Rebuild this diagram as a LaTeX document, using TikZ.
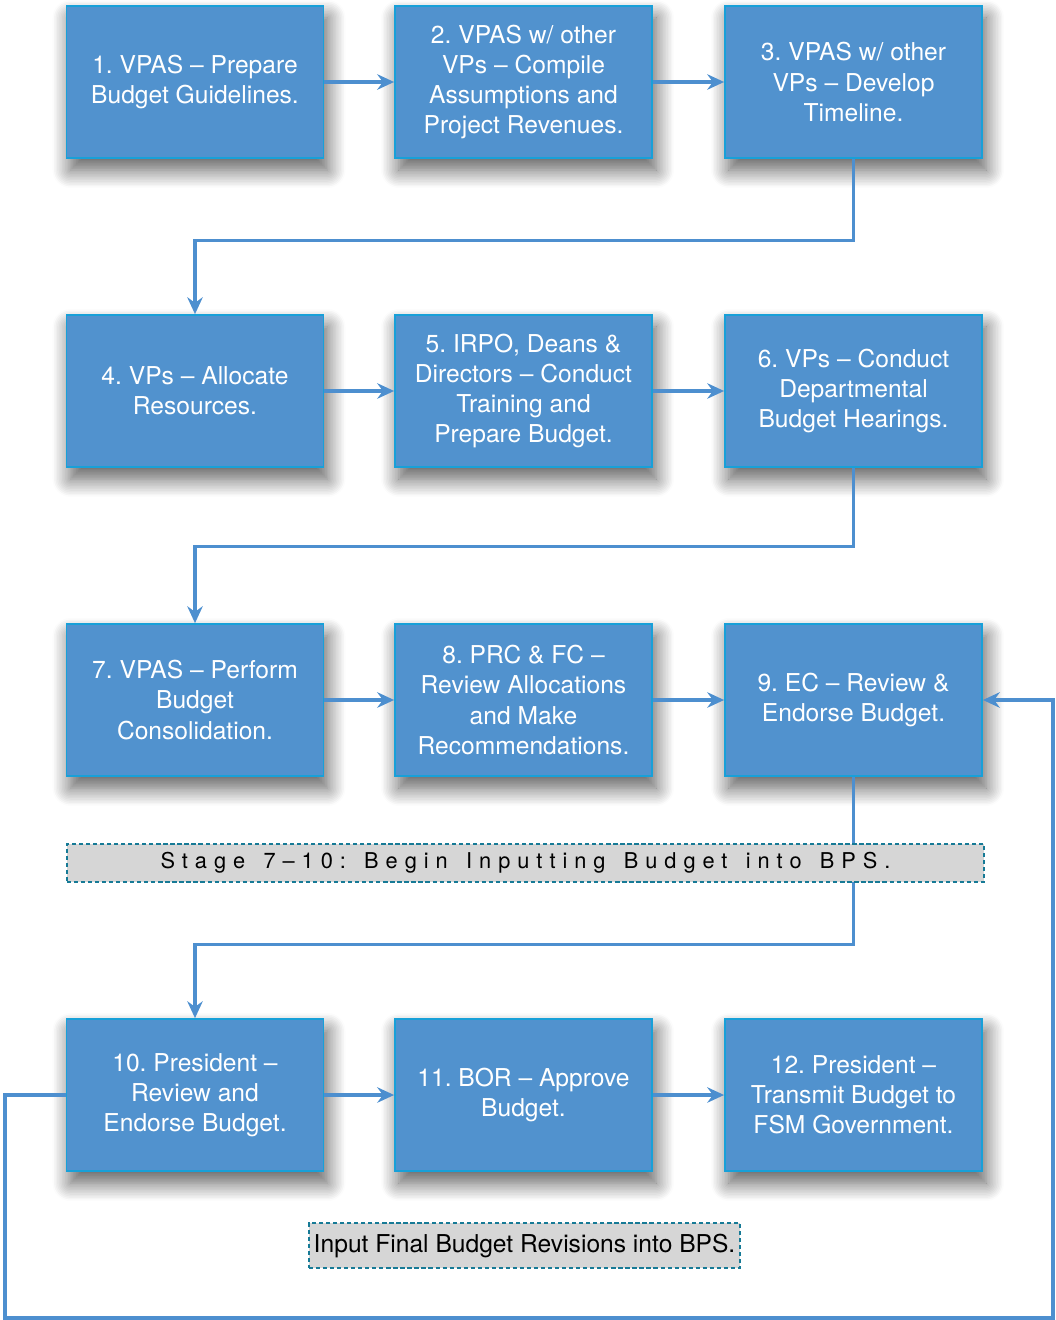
\documentclass[tikz,border=0pt]{standalone}
\usepackage{fontspec}
\setmainfont{TeX Gyre Heros}
\newfontfamily\stagefont[LetterSpace=32,WordSpace=1.4]{TeX Gyre Heros}
\frenchspacing
\usetikzlibrary{arrows.meta,shadows.blur}
\definecolor{boxblue}{RGB}{81,146,206}
\definecolor{boxedge}{RGB}{24,160,216}
\definecolor{linkblue}{RGB}{77,143,207}
\definecolor{notegray}{RGB}{214,214,214}
\definecolor{noteedge}{RGB}{22,122,150}
\begin{document}
\begin{tikzpicture}[x=0.025cm, y=-0.025cm,
    stepbox/.style={draw=boxedge, line width=1.2pt, fill=boxblue, text=white,
      minimum width=6.425cm, minimum height=3.8cm, align=center,
      font=\fontsize{17.5}{21.5}\selectfont,
      blur shadow={shadow xshift=0.1cm, shadow yshift=-0.3cm,
        shadow blur radius=0.45cm, shadow blur steps=12, shadow opacity=65}},
    notebox/.style={draw=noteedge, densely dashed, line width=1.1pt, fill=notegray,
      inner sep=0pt, align=center},
    link/.style={draw=linkblue, line width=2.2pt, -{Stealth[length=12pt, width=11pt, inset=4pt]}}]
    \useasboundingbox (0,0) rectangle (1056,1320);
    \node[stepbox] (b1) at (195,82) {1. VPAS – Prepare\\Budget Guidelines.};
    \node[stepbox] (b2) at (523.5,82) {2. VPAS w/ other\\VPs – Compile\\Assumptions and\\Project Revenues.};
    \node[stepbox] (b3) at (853.5,82) {3. VPAS w/ other\\VPs – Develop\\Timeline.};
    \node[stepbox] (b4) at (195,391) {4. VPs – Allocate\\Resources.};
    \node[stepbox] (b5) at (523.5,391) {5. IRPO, Deans \&\\Directors – Conduct\\Training and\\Prepare Budget.};
    \node[stepbox] (b6) at (853.5,391) {6. VPs – Conduct\\Departmental\\Budget Hearings.};
    \node[stepbox] (b7) at (195,700) {7. VPAS – Perform\\Budget\\Consolidation.};
    \node[stepbox] (b8) at (523.5,700) {8. PRC \& FC –\\Review Allocations\\and Make\\Recommendations.};
    \node[stepbox] (b9) at (853.5,700) {9. EC – Review \&\\Endorse Budget.};
    \node[stepbox] (b10) at (195,1095) {10. President –\\Review and\\Endorse Budget.};
    \node[stepbox] (b11) at (523.5,1095) {11. BOR – Approve\\Budget.};
    \node[stepbox] (b12) at (853.5,1095) {12. President –\\Transmit Budget to\\FSM Government.};
    \coordinate (lp1) at (5,1318);
    \coordinate (lp2) at (1053,1318);
    \draw[link] (b1) -- (b2);
    \draw[link] (b2) -- (b3);
    \draw[link] (b4) -- (b5);
    \draw[link] (b5) -- (b6);
    \draw[link] (b7) -- (b8);
    \draw[link] (b8) -- (b9);
    \draw[link] (b10) -- (b11);
    \draw[link] (b11) -- (b12);
    \draw[link] (b3.south) -- ++(0,82) -| (b4.north);
    \draw[link] (b6.south) -- ++(0,79) -| (b7.north);
    \draw[link] (b9.south) -- ++(0,168) -| (b10.north);
    \draw[link] (b10.west) -| (lp1) -- (lp2) |- (b9.east);
    \node[notebox, minimum width=22.925cm, minimum height=0.95cm, font=\stagefont\fontsize{15.5}{18}\selectfont] (stg) at (525.5,863) {Stage 7–10: Begin Inputting Budget into BPS.};
    \node[notebox, minimum width=10.775cm, minimum height=1.125cm, font=\fontsize{17.5}{21}\selectfont] (fin) at (524.5,1245.5) {Input Final Budget Revisions into BPS.};
\end{tikzpicture}
\end{document}
